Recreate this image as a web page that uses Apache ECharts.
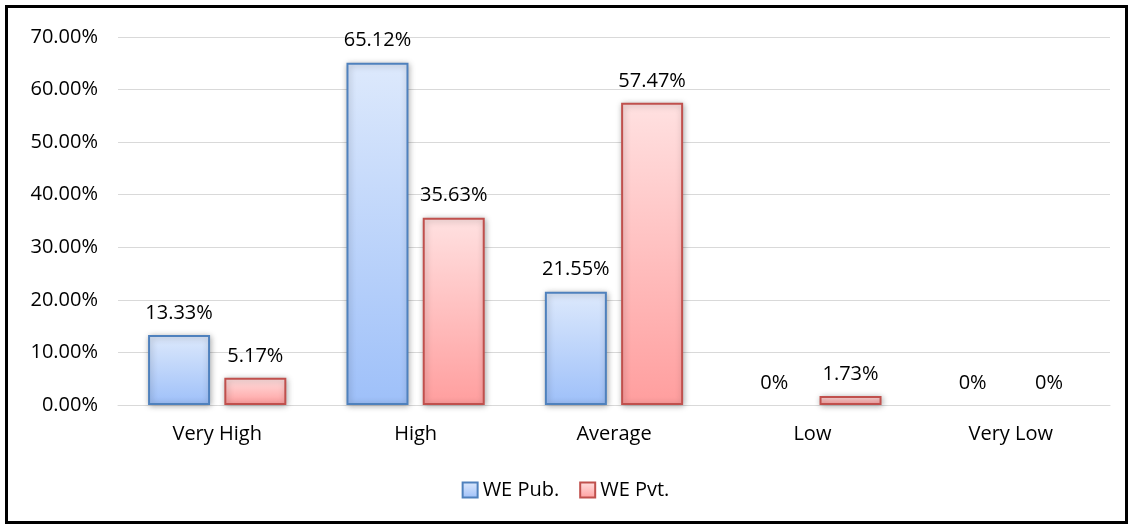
<!DOCTYPE html>
<html>
<head>
<meta charset="utf-8">
<script src="https://cdn.jsdelivr.net/npm/echarts@6/dist/echarts.min.js"></script>
<style>
html, body { margin: 0; padding: 0; background: #fff; }
#frame { position: absolute; left: 5px; top: 5px; width: 1117px; height: 513px; border: 3px solid #000; }
#main { width: 1131px; height: 527px; position: absolute; left: 0; top: 0; }
</style>
</head>
<body>
<div id="frame"></div>
<div id="main"></div>
<script>
var categories = ['Very High', 'High', 'Average', 'Low', 'Very Low'];
var pubValues = [13.33, 65.12, 21.55, 0, 0];
var pvtValues = [5.17, 35.63, 57.47, 1.73, 0];
var seriesNames = ['WE Pub.', 'WE Pvt.'];

var font = 'Open Sans, Noto Sans, sans-serif';
var fs = 20;

function labelFmt(p) {
	return p.value === 0 ? '0%' : p.value.toFixed(2) + '%';
}

// zero values draw no bar outline, only the label
function toItems(arr) {
	return arr.map(function(v) {
		if (v === 0) {
			return { value: 0, itemStyle: { color: 'rgba(0,0,0,0)', borderColor: 'rgba(0,0,0,0)', borderWidth: 0, shadowBlur: 0, shadowColor: 'rgba(0,0,0,0)' } };
		}
		return v;
	});
}

var myChart = echarts.init(document.getElementById('main'));
var option = {
	animation: false,
	textStyle: { fontFamily: font },
	grid: { left: 118, right: 21, top: 37, bottom: 122 },
	legend: {
		bottom: 22,
		left: 'center',
		icon: 'rect',
		itemWidth: 15,
		itemHeight: 15,
		itemGap: 20,
		textStyle: { fontSize: fs, color: '#000', fontFamily: font },
		data: seriesNames
	},
	xAxis: {
		type: 'category',
		data: categories,
		axisLine: { lineStyle: { color: '#d9d9d9', width: 1 } },
		axisTick: { show: false },
		axisLabel: { fontSize: fs, color: '#000', margin: 19 }
	},
	yAxis: {
		type: 'value',
		min: 0,
		max: 70,
		interval: 10,
		axisLine: { show: false },
		axisTick: { show: false },
		splitLine: { lineStyle: { color: '#d9d9d9' } },
		axisLabel: {
			fontSize: fs, color: '#000', margin: 20,
			formatter: function(v) { return v.toFixed(2) + '%'; }
		}
	},
	series: [{
		name: seriesNames[0],
		type: 'bar',
		data: toItems(pubValues),
		barWidth: 62,
		barGap: '23%',
		itemStyle: {
			color: new echarts.graphic.LinearGradient(0, 0, 0, 1, [
				{ offset: 0, color: '#dde9fc' },
				{ offset: 1, color: '#9ec0f9' }
			]),
			borderColor: '#4f81bd',
			borderWidth: 2,
			shadowColor: 'rgba(0,0,0,0.3)',
			shadowBlur: 6,
			shadowOffsetX: 1,
			shadowOffsetY: 1
		},
		label: {
			show: true, position: 'top', distance: 12,
			fontSize: fs, color: '#000', formatter: labelFmt
		}
	}, {
		name: seriesNames[1],
		type: 'bar',
		data: toItems(pvtValues),
		barWidth: 62,
		itemStyle: {
			color: new echarts.graphic.LinearGradient(0, 0, 0, 1, [
				{ offset: 0, color: '#ffe1e1' },
				{ offset: 1, color: '#ff9e9e' }
			]),
			borderColor: '#c0504d',
			borderWidth: 2,
			shadowColor: 'rgba(0,0,0,0.3)',
			shadowBlur: 6,
			shadowOffsetX: 1,
			shadowOffsetY: 1
		},
		label: {
			show: true, position: 'top', distance: 12,
			fontSize: fs, color: '#000', formatter: labelFmt
		}
	}]
};
myChart.setOption(option);
</script>
</body>
</html>
